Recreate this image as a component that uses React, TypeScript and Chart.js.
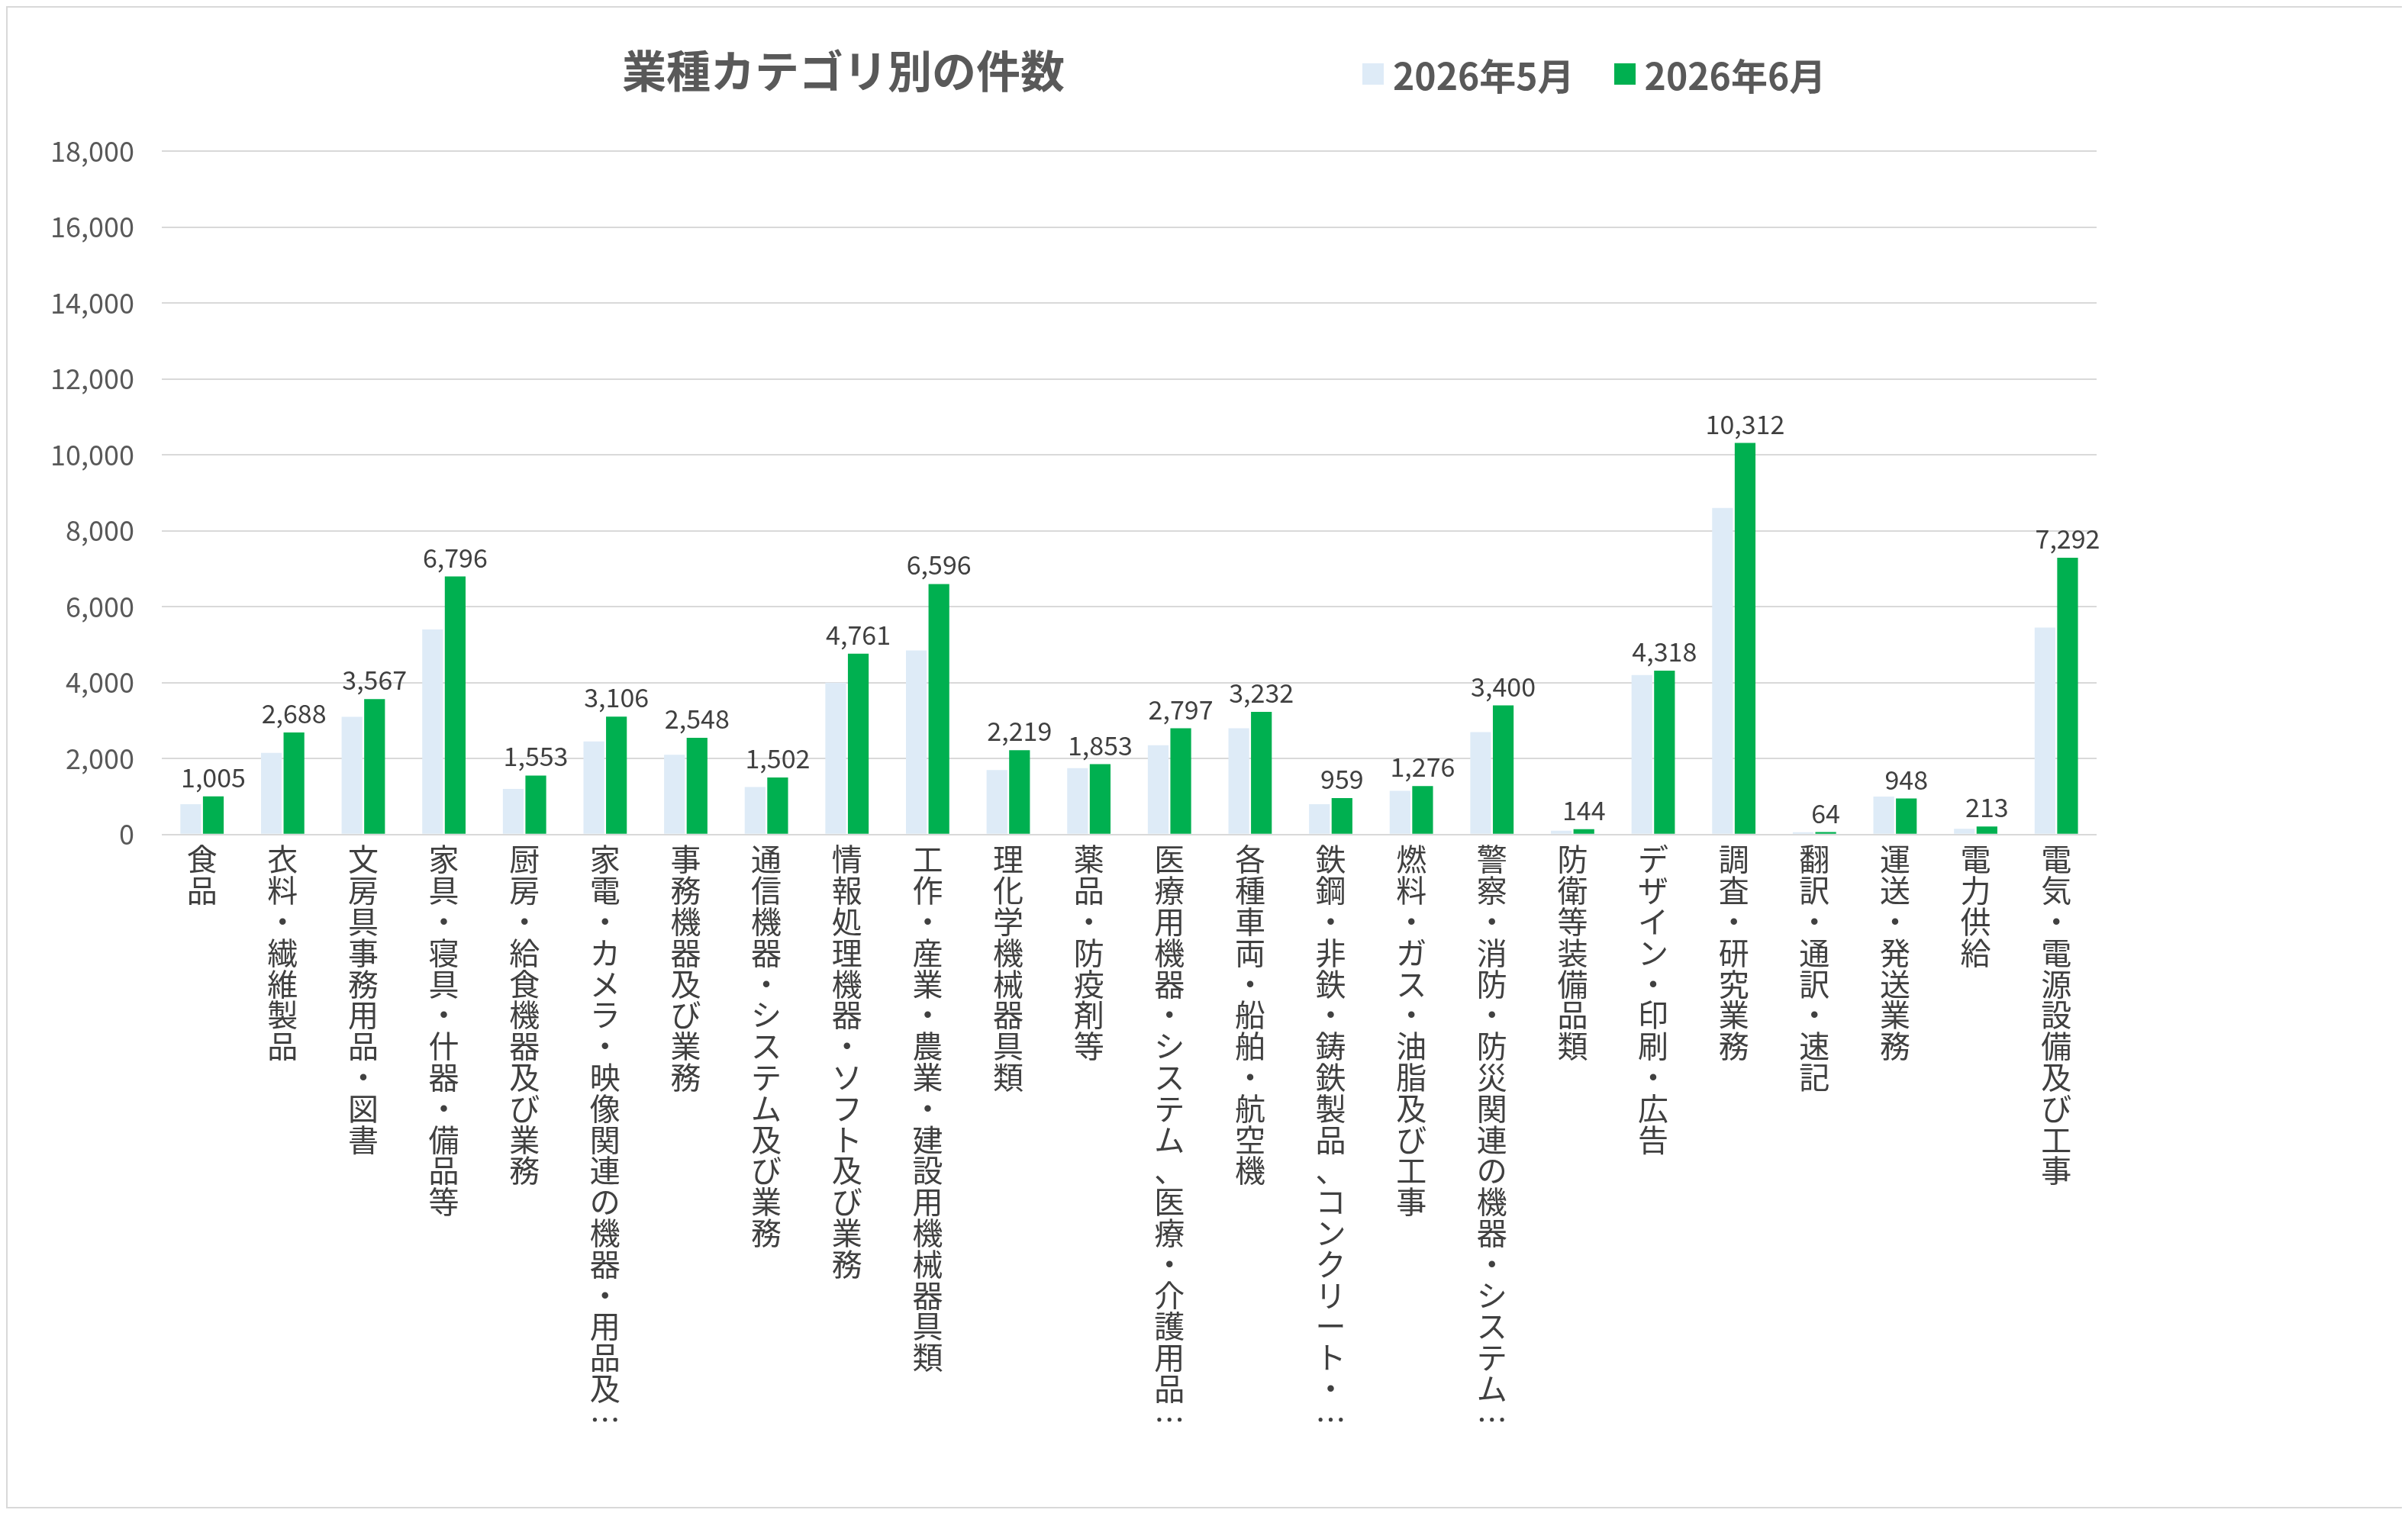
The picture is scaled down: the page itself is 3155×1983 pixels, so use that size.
import React, { useEffect, useRef } from "react";
import { Chart, registerables } from "chart.js";
Chart.register(...registerables);

const categories = [
  "食品", "衣料・繊維製品", "文房具事務用品・図書", "家具・寝具・什器・備品等", "厨房・給食機器及び業務",
  "家電・カメラ・映像関連の機器・用品及…", "事務機器及び業務", "通信機器・システム及び業務", "情報処理機器・ソフト及び業務",
  "工作・産業・農業・建設用機械器具類", "理化学機械器具類", "薬品・防疫剤等", "医療用機器・システム、医療・介護用品…",
  "各種車両・船舶・航空機", "鉄鋼・非鉄・鋳鉄製品、コンクリート・…", "燃料・ガス・油脂及び工事", "警察・消防・防災関連の機器・システム…",
  "防衛等装備品類", "デザイン・印刷・広告", "調査・研究業務", "翻訳・通訳・速記", "運送・発送業務", "電力供給", "電気・電源設備及び工事",
];
const may2026 = [800, 2150, 3100, 5400, 1200, 2450, 2100, 1250, 4000, 4850, 1700, 1750, 2350, 2800, 800, 1150, 2700, 100, 4200, 8600, 60, 1000, 150, 5450];
const jun2026 = [1005, 2688, 3567, 6796, 1553, 3106, 2548, 1502, 4761, 6596, 2219, 1853, 2797, 3232, 959, 1276, 3400, 144, 4318, 10312, 64, 948, 213, 7292];
const seriesNames = ["2026年5月", "2026年6月"];
const FONT = "'Noto Sans CJK JP', 'Noto Sans', sans-serif";

export default function App() {
  const ref = useRef<HTMLCanvasElement>(null);
  useEffect(() => {
    const labelPlugin = {
      id: "vals",
      afterDatasetsDraw(chart: any) {
        const ctx = chart.ctx;
        const meta = chart.getDatasetMeta(1);
        ctx.save();
        ctx.font = `34px ${FONT}`;
        ctx.fillStyle = "#404040";
        ctx.textAlign = "center";
        ctx.textBaseline = "bottom";
        meta.data.forEach((b: any, i: number) => {
          ctx.fillText(jun2026[i].toLocaleString("en-US"), b.x, b.y - 8);
        });
        ctx.restore();
      },
    };
    const chart = new Chart(ref.current!, {
      type: "bar",
      data: {
        labels: categories.map((c) => Array.from(c)),
        datasets: [
          { label: seriesNames[0], data: may2026, backgroundColor: "#deebf7", categoryPercentage: 0.56, barPercentage: 0.92 },
          { label: seriesNames[1], data: jun2026, backgroundColor: "#00b050", categoryPercentage: 0.56, barPercentage: 0.92 },
        ],
      },
      options: {
        animation: false,
        responsive: false,
        layout: { padding: { top: 188, right: 400, left: 20, bottom: 90 } },
        plugins: { legend: { display: false }, title: { display: false }, tooltip: { enabled: false } },
        scales: {
          x: {
            grid: { display: false },
            border: { display: false },
            ticks: { maxRotation: 0, minRotation: 0, autoSkip: false, color: "#404040", font: { family: FONT, size: 40, lineHeight: 1.02 }, padding: 4 },
          },
          y: {
            min: 0, max: 18000,
            ticks: { stepSize: 2000, color: "#595959", font: { family: FONT, size: 36 }, padding: 36, callback: (v: any) => Number(v).toLocaleString("en-US") },
            grid: { color: "#d9d9d9", lineWidth: 2, drawTicks: false },
            border: { display: false },
          },
        },
      },
      plugins: [labelPlugin],
    });
    return () => chart.destroy();
  }, []);
  return (
    <div style={{ position: "relative", width: 3137, height: 1965, border: "2px solid #d9d9d9", background: "#fff", fontFamily: FONT }}>
      <canvas ref={ref} width={3137} height={1965} />
      <div style={{ position: "absolute", left: 805, top: 38, fontSize: 58, fontWeight: 700, color: "#595959" }}>業種カテゴリ別の件数</div>
      <div style={{ position: "absolute", left: 1775, top: 52, fontSize: 48, fontWeight: 700, color: "#595959", display: "flex", alignItems: "center" }}>
        <span style={{ width: 28, height: 28, background: "#deebf7", display: "inline-block", marginRight: 12 }} />
        <span style={{ marginRight: 52 }}>{seriesNames[0]}</span>
        <span style={{ width: 28, height: 28, background: "#00b050", display: "inline-block", marginRight: 12 }} />
        <span>{seriesNames[1]}</span>
      </div>
    </div>
  );
}
